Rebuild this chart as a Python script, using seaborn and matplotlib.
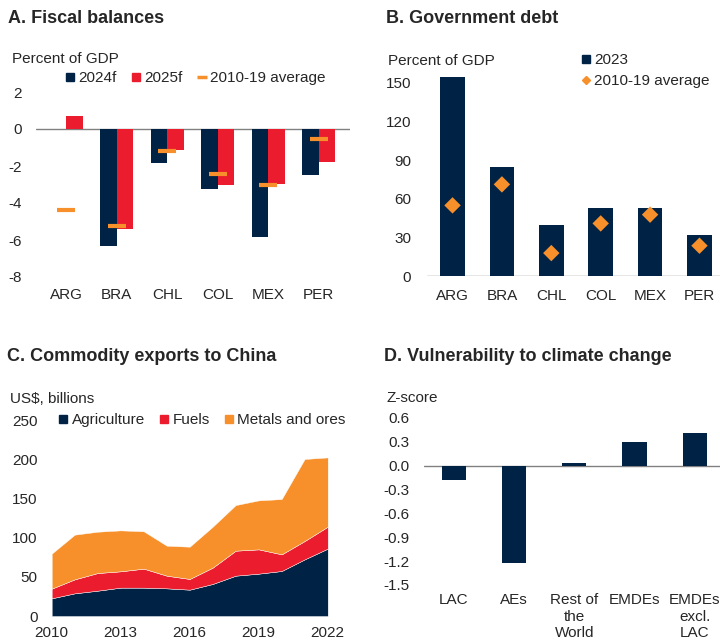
import numpy as np
import pandas as pd
import matplotlib
matplotlib.use("Agg")
import matplotlib.pyplot as plt
from matplotlib.lines import Line2D
import seaborn as sns

# data
countries = ["ARG", "BRA", "CHL", "COL", "MEX", "PER"]
bal_2024 = [0.0, -6.3, -1.85, -3.25, -5.85, -2.47]
bal_2025 = [0.7, -5.4, -1.15, -3.05, -2.97, -1.8]
bal_avg = [-4.4, -5.25, -1.18, -2.42, -3.0, -0.52]

debt_2023 = [154.6, 84.8, 39.3, 52.5, 53.0, 32.0]
debt_avg = [54.8, 71.1, 17.8, 40.8, 47.6, 23.5]

years = list(range(2010, 2023))
agri = [22.6, 29.0, 32.4, 36.3, 36.3, 35.4, 33.7, 41.0, 51.6, 54.2, 57.6, 72.5, 86.2]
fuels = [12.4, 17.9, 22.6, 20.9, 24.3, 16.2, 13.7, 20.9, 32.0, 31.1, 21.3, 23.5, 28.1]
metals = [44.8, 57.2, 52.9, 52.4, 47.8, 38.4, 41.3, 52.4, 58.4, 62.7, 70.8, 105.0, 88.7]

groups = ["LAC", "AEs", "Rest of\nthe\nWorld", "EMDEs", "EMDEs\nexcl.\nLAC"]
zscore = [-0.18, -1.22, 0.033, 0.29, 0.41]

NAVY = "#002345"
RED = "#EB1C2D"
ORANGE = "#F7902B"
GREY = "#808080"

sns.set_style("white")
plt.rcParams["font.family"] = ["Liberation Sans", "DejaVu Sans"]
plt.rcParams["font.size"] = 11
plt.rcParams["axes.unicode_minus"] = False

fig = plt.figure(figsize=(7.2, 6.42), dpi=100)
W, H = 720, 642


def box(x0, x1, y_top, y_bot):
    return [x0 / W, 1 - y_bot / H, (x1 - x0) / W, (y_bot - y_top) / H]


def clean(ax, xpad, ypad):
    sns.despine(ax=ax, left=True, bottom=True)
    ax.tick_params(axis="both", length=0, labelsize=11)
    ax.tick_params(axis="x", pad=xpad)
    ax.tick_params(axis="y", pad=ypad)
    ax.set_xlabel("")
    ax.set_ylabel("")


def ftext(x, y, s, **kw):
    fig.text(x / W, 1 - y / H, s, va="center", ha="left", **kw)


# A. Fiscal balances
axA = fig.add_axes(box(35.5, 349.5, 92, 277))
dfA = pd.DataFrame({
    "country": countries * 2,
    "value": bal_2024 + bal_2025,
    "series": ["2024f"] * 6 + ["2025f"] * 6,
})
sns.barplot(data=dfA, x="country", y="value", hue="series", palette=[NAVY, RED],
            width=0.66, legend=False, ax=axA, saturation=1, linewidth=0)
sns.scatterplot(x=np.arange(len(countries)), y=bal_avg, marker="_", s=150,
                linewidth=3, color=ORANGE, ax=axA, zorder=5)
axA.axhline(0, color=GREY, lw=1, zorder=0)
axA.set_ylim(-8, 2)
axA.set_yticks([-8, -6, -4, -2, 0, 2])
clean(axA, 8, 10)
ftext(8, 18.5, "A. Fiscal balances", fontsize=13, fontweight="bold")
ftext(11.7, 59.3, "Percent of GDP", fontsize=11)
hA = [Line2D([], [], marker="s", ls="none", color=NAVY, markersize=5.5),
      Line2D([], [], marker="s", ls="none", color=RED, markersize=5.5),
      Line2D([], [], marker="_", ls="none", color=ORANGE, markersize=7, mew=2.5)]
fig.legend(hA, ["2024f", "2025f", "2010-19 average"], loc="center left",
           bbox_to_anchor=(66 / W, 1 - 78.3 / H), ncol=3, frameon=False,
           borderpad=0, borderaxespad=0, handlelength=0.5, handletextpad=0.3,
           columnspacing=1.0, fontsize=11)

# B. Government debt
axB = fig.add_axes(box(426.6, 725.4, 69.8, 276))
sns.barplot(x=countries, y=debt_2023, color=NAVY, width=0.5, ax=axB,
            saturation=1, linewidth=0)
sns.scatterplot(x=np.arange(len(countries)), y=debt_avg, marker="D", s=70,
                color=ORANGE, edgecolor="none", ax=axB, zorder=5)
axB.axhline(0, color=GREY, lw=1, zorder=0)
axB.set_ylim(0, 160)
axB.set_yticks([0, 30, 60, 90, 120, 150])
clean(axB, 9, 11)
ftext(386, 18.5, "B. Government debt", fontsize=13, fontweight="bold")
ftext(388.5, 61, "Percent of GDP", fontsize=11)
hB = [Line2D([], [], marker="s", ls="none", color=NAVY, markersize=5.5),
      Line2D([], [], marker="D", ls="none", color=ORANGE, markersize=4.5)]
fig.legend(hB, ["2023", "2010-19 average"], loc="upper left",
           bbox_to_anchor=(582 / W, 1 - 53.5 / H), ncol=1, frameon=False,
           borderpad=0, borderaxespad=0, handlelength=0.5, handletextpad=0.3,
           labelspacing=0.42, fontsize=11)

# C. Commodity exports to China
axC = fig.add_axes(box(51.7, 327.7, 420.7, 616))
axC.stackplot(years, agri, fuels, metals, colors=[NAVY, RED, ORANGE],
              edgecolor="white", linewidth=0.3)
axC.set_xlim(2010, 2022)
axC.set_ylim(0, 250)
axC.set_xticks([2010, 2013, 2016, 2019, 2022])
axC.set_yticks([0, 50, 100, 150, 200, 250])
clean(axC, 7, 10)
ftext(6.7, 356.7, "C. Commodity exports to China", fontsize=13, fontweight="bold")
ftext(10, 399.3, "US$, billions", fontsize=11)
hC = [Line2D([], [], marker="s", ls="none", color=c, markersize=5.5)
      for c in [NAVY, RED, ORANGE]]
fig.legend(hC, ["Agriculture", "Fuels", "Metals and ores"], loc="center left",
           bbox_to_anchor=(59.5 / W, 1 - 420 / H), ncol=3, frameon=False,
           borderpad=0, borderaxespad=0, handlelength=0.5, handletextpad=0.3,
           columnspacing=1.0, fontsize=11)

# D. Vulnerability to climate change
axD = fig.add_axes(box(423.7, 724.8, 417.7, 585))
sns.barplot(x=groups, y=zscore, color=NAVY, width=0.4, ax=axD,
            saturation=1, linewidth=0)
axD.axhline(0, color=GREY, lw=1, zorder=0)
axD.set_ylim(-1.5, 0.6)
ticksD = [-1.5, -1.2, -0.9, -0.6, -0.3, 0.0, 0.3, 0.6]
axD.set_yticks(ticksD)
axD.set_yticklabels([f"{v:.1f}" for v in ticksD])
clean(axD, 6, 10)
ftext(384, 356.7, "D. Vulnerability to climate change", fontsize=13, fontweight="bold")
ftext(386.7, 398.3, "Z-score", fontsize=11)

fig.savefig("out.png", dpi=100)
